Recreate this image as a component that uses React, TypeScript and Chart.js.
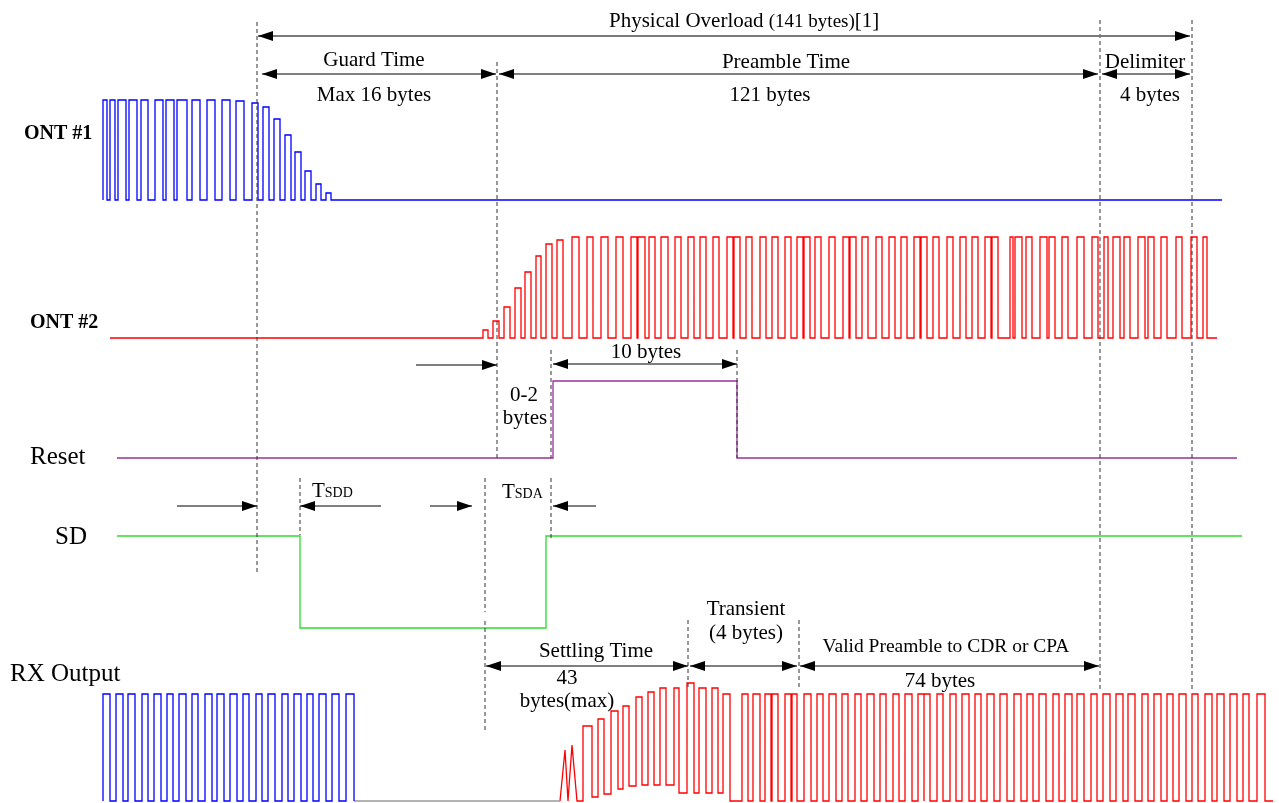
import { useEffect, useRef } from 'react';
import { Chart, registerables } from 'chart.js';

Chart.register(...registerables);

const W = 1279;
const H = 803;

// ---------- waveform data (x = time in picture units, y = level) ----------
// ONT #1 (blue): pulses before and during decay
const ont1Rise = [103, 110, 118, 129, 141, 155, 166, 177, 192, 207, 222, 236, 252, 263, 274, 285, 295, 305, 316, 326];
const ont1Fall = [107, 115, 126, 137, 148, 163, 174, 187, 200, 215, 230, 244, 258, 269, 280, 291, 301, 311, 321, 331];
const ont1Top = [100, 100, 100, 100, 100, 100, 100, 100, 100, 100, 100, 101, 103, 107, 119, 135, 152, 171, 184, 193];
const ont1Low = 200;
const ont1Span = [103, 1222];

// ONT #2 (red): ramp-up then full pulses
const ont2Rise = [483, 493, 504, 515, 525, 536, 546, 557, 572, 587, 601, 616, 631, 638, 649, 661, 675, 688, 700, 713, 727, 734, 746, 760, 772, 785, 797, 804, 815, 829, 843, 850, 862, 876, 889, 901, 914, 921, 933, 947, 960, 972, 985, 992, 1010, 1015, 1026, 1040, 1049, 1062, 1077, 1092, 1104, 1113, 1124, 1138, 1148, 1161, 1176, 1191, 1203];
const ont2Fall = [488, 499, 510, 521, 531, 541, 552, 563, 579, 593, 608, 623, 637, 645, 655, 668, 681, 694, 706, 719, 733, 740, 752, 766, 778, 791, 803, 810, 821, 835, 849, 856, 868, 882, 895, 907, 920, 927, 939, 953, 966, 978, 991, 998, 1013, 1022, 1032, 1047, 1055, 1068, 1084, 1098, 1108, 1120, 1130, 1145, 1154, 1167, 1182, 1197, 1207];
const ont2RampTop = [330, 321, 307, 288, 272, 256, 244, 240];
const ont2FullTop = 237;
const ont2Low = 338;
const ont2Span = [110, 1217];

// Reset (purple) and SD (green) as level-change points
const resetX = [117, 553, 553, 737, 737, 1237];
const resetY = [458, 458, 381, 381, 458, 458];
const sdX = [117, 300, 300, 546, 546, 1242];
const sdY = [536, 536, 628, 628, 536, 536];

// RX output – ONT #1 part (blue)
const rxBlueRise = [103, 116, 128, 142, 154, 167, 179, 192, 205, 217, 230, 243, 256, 268, 282, 294, 307, 319, 332, 346];
const rxBlueFall = [110, 123, 135, 148, 161, 173, 186, 198, 212, 224, 237, 249, 262, 275, 288, 301, 313, 326, 339, 354];
const rxTop = 694;
const rxLow = 801;
const rxGapSpan = [354, 560];

// RX output – ONT #2 part (red): first glitches, then settling pulses
const rxGlitchX = [560, 565, 568, 572, 577, 583];
const rxGlitchY = [801, 750, 801, 745, 801, 801];
const rxRedRise = [583, 598, 611, 623, 636, 648, 660, 674, 687, 699, 712, 723, 742, 753, 765, 772, 785, 792, 804, 817, 829, 842, 855, 867, 880, 893, 905, 918, 924, 937, 950, 962, 975, 987, 1000, 1014, 1027, 1039, 1053, 1065, 1077, 1091, 1103, 1116, 1128, 1142, 1154, 1167, 1179, 1192, 1205, 1217, 1230, 1243, 1257];
const rxRedFall = [592, 604, 618, 629, 642, 654, 666, 679, 694, 706, 718, 730, 748, 760, 771, 778, 791, 797, 811, 823, 836, 848, 861, 874, 886, 899, 912, 924, 930, 943, 956, 969, 981, 994, 1007, 1021, 1033, 1046, 1059, 1072, 1084, 1097, 1110, 1123, 1135, 1148, 1161, 1173, 1186, 1198, 1212, 1224, 1237, 1249, 1265];
const rxRedSettleTop = [726, 719, 711, 706, 697, 692, 688, 688, 683, 688, 688];
const rxRedSettleLow = [797, 794, 789, 786, 785, 785, 785, 793, 793, 793, 793];
const rxRedEnd = 1273;

// ---------- annotation data ----------
// dashed marker lines: x, yFrom, yTo
const markerX = [257, 497, 551, 737, 300, 485, 551, 485, 688, 799, 1100, 1192];
const markerY1 = [22, 62, 350, 350, 478, 478, 478, 621, 620, 620, 20, 20];
const markerY2 = [575, 460, 458, 458, 535, 612, 540, 730, 690, 690, 690, 690];

// span arrows: x1, x2, y, heads ('both' | 'right' | 'left')
const arrowX1 = [258, 262, 499, 1102, 553, 416, 177, 300, 430, 553, 486, 690, 800];
const arrowX2 = [1190, 496, 1098, 1190, 737, 497, 257, 381, 472, 596, 688, 797, 1099];
const arrowY = [36, 74, 74, 74, 364, 365, 506, 506, 506, 506, 666, 666, 666];
const arrowHeads = ['both', 'both', 'both', 'both', 'both', 'right', 'right', 'left', 'right', 'left', 'both', 'both', 'both'];

type Part = { t: string; s: number; b?: boolean };
type Label = { parts: Part[]; x: number; y: number; align: 'left' | 'center' };

const labels: Label[] = [
  { parts: [{ t: 'Physical Overload ', s: 21 }, { t: '(141 bytes)', s: 19 }, { t: '[1]', s: 21 }], x: 609, y: 27, align: 'left' },
  { parts: [{ t: 'Guard Time', s: 21 }], x: 374, y: 66, align: 'center' },
  { parts: [{ t: 'Max 16 bytes', s: 21 }], x: 374, y: 101, align: 'center' },
  { parts: [{ t: 'Preamble Time', s: 21 }], x: 786, y: 68, align: 'center' },
  { parts: [{ t: '121 bytes', s: 21 }], x: 770, y: 101, align: 'center' },
  { parts: [{ t: 'Delimiter', s: 21 }], x: 1145, y: 68, align: 'center' },
  { parts: [{ t: '4 bytes', s: 21 }], x: 1150, y: 101, align: 'center' },
  { parts: [{ t: 'ONT #1', s: 20, b: true }], x: 24, y: 139, align: 'left' },
  { parts: [{ t: 'ONT #2', s: 20, b: true }], x: 30, y: 328, align: 'left' },
  { parts: [{ t: '10 bytes', s: 21 }], x: 646, y: 358, align: 'center' },
  { parts: [{ t: '0-2', s: 21 }], x: 524, y: 401, align: 'center' },
  { parts: [{ t: 'bytes', s: 21 }], x: 525, y: 424, align: 'center' },
  { parts: [{ t: 'Reset', s: 25 }], x: 30, y: 464, align: 'left' },
  { parts: [{ t: 'T', s: 21 }, { t: 'SDD', s: 14 }], x: 312, y: 497, align: 'left' },
  { parts: [{ t: 'T', s: 21 }, { t: 'SDA', s: 14 }], x: 502, y: 498, align: 'left' },
  { parts: [{ t: 'SD', s: 25 }], x: 55, y: 544, align: 'left' },
  { parts: [{ t: 'Transient', s: 21 }], x: 746, y: 615, align: 'center' },
  { parts: [{ t: '(4 bytes)', s: 21 }], x: 746, y: 639, align: 'center' },
  { parts: [{ t: 'Settling Time', s: 21 }], x: 596, y: 657, align: 'center' },
  { parts: [{ t: 'Valid Preamble to CDR or CPA', s: 19.5 }], x: 946, y: 652, align: 'center' },
  { parts: [{ t: '74 bytes', s: 21 }], x: 940, y: 687, align: 'center' },
  { parts: [{ t: '43', s: 21 }], x: 567, y: 684, align: 'center' },
  { parts: [{ t: 'bytes(max)', s: 21 }], x: 567, y: 707, align: 'center' },
  { parts: [{ t: 'RX Output', s: 25 }], x: 10, y: 681, align: 'left' },
];

type Pt = { x: number; y: number };

function pulseTrain(
  rises: number[],
  falls: number[],
  topOf: (i: number) => number,
  lowOf: (i: number) => number,
  start: number,
  end: number,
  baseLow: number
): Pt[] {
  const pts: Pt[] = [{ x: start, y: baseLow }];
  let prevLow = baseLow;
  for (let i = 0; i < rises.length; i++) {
    const top = topOf(i);
    const low = lowOf(i);
    pts.push({ x: rises[i], y: prevLow });
    pts.push({ x: rises[i], y: top });
    pts.push({ x: falls[i], y: top });
    pts.push({ x: falls[i], y: low });
    prevLow = low;
  }
  pts.push({ x: end, y: prevLow });
  return pts;
}

function zipPts(xs: number[], ys: number[]): Pt[] {
  return xs.map((x, i) => ({ x, y: ys[i] }));
}

const SERIF = '"Liberation Serif", "Times New Roman", serif';

const annotationPlugin = {
  id: 'timingAnnotations',
  afterDatasetsDraw(chart: any) {
    const ctx: CanvasRenderingContext2D = chart.ctx;
    const sx = chart.scales.x;
    const sy = chart.scales.y;
    const px = (v: number) => sx.getPixelForValue(v);
    const py = (v: number) => sy.getPixelForValue(v);

    ctx.save();
    // arrows
    for (let i = 0; i < arrowX1.length; i++) {
      const x1 = px(arrowX1[i]);
      const x2 = px(arrowX2[i]);
      const y = py(arrowY[i]);
      const heads = arrowHeads[i];
      ctx.strokeStyle = i === 0 ? '#7a7a7a' : '#000';
      ctx.lineWidth = i === 0 ? 2 : 1.2;
      ctx.beginPath();
      ctx.moveTo(x1, y);
      ctx.lineTo(x2, y);
      ctx.stroke();
      ctx.fillStyle = '#000';
      const L = 15;
      const hw = 5;
      if (heads === 'both' || heads === 'left') {
        ctx.beginPath();
        ctx.moveTo(x1, y);
        ctx.lineTo(x1 + L, y - hw);
        ctx.lineTo(x1 + L, y + hw);
        ctx.closePath();
        ctx.fill();
      }
      if (heads === 'both' || heads === 'right') {
        ctx.beginPath();
        ctx.moveTo(x2, y);
        ctx.lineTo(x2 - L, y - hw);
        ctx.lineTo(x2 - L, y + hw);
        ctx.closePath();
        ctx.fill();
      }
    }
    // labels
    ctx.fillStyle = '#000';
    ctx.textBaseline = 'alphabetic';
    ctx.textAlign = 'left';
    for (const lab of labels) {
      let total = 0;
      const widths: number[] = [];
      for (const p of lab.parts) {
        ctx.font = `${p.b ? 'bold ' : ''}${p.s}px ${SERIF}`;
        const w = ctx.measureText(p.t).width;
        widths.push(w);
        total += w;
      }
      let x = px(lab.x);
      if (lab.align === 'center') x -= total / 2;
      const y = py(lab.y);
      lab.parts.forEach((p, k) => {
        ctx.font = `${p.b ? 'bold ' : ''}${p.s}px ${SERIF}`;
        ctx.fillText(p.t, x, y);
        x += widths[k];
      });
    }
    ctx.restore();
  },
};

export default function App() {
  const ref = useRef<HTMLCanvasElement | null>(null);

  useEffect(() => {
    if (!ref.current) return;

    const ont1 = pulseTrain(ont1Rise, ont1Fall, (i) => ont1Top[i], () => ont1Low, ont1Span[0], ont1Span[1], ont1Low);
    const ont1Fixed = ont1.slice(1); // start directly with the rising edge
    const ont2 = pulseTrain(
      ont2Rise,
      ont2Fall,
      (i) => (i < ont2RampTop.length ? ont2RampTop[i] : ont2FullTop),
      () => ont2Low,
      ont2Span[0],
      ont2Span[1],
      ont2Low
    );
    const rxBlue = pulseTrain(rxBlueRise, rxBlueFall, () => rxTop, () => rxLow, rxBlueRise[0], rxBlueFall[rxBlueFall.length - 1], rxLow).slice(1);
    const rxGap = [{ x: rxGapSpan[0], y: rxLow }, { x: rxGapSpan[1], y: rxLow }];
    const rxRedPulses = pulseTrain(
      rxRedRise,
      rxRedFall,
      (i) => (i < rxRedSettleTop.length ? rxRedSettleTop[i] : rxTop),
      (i) => (i < rxRedSettleLow.length ? rxRedSettleLow[i] : rxLow),
      rxRedRise[0],
      rxRedEnd,
      rxLow
    );
    const rxRed = [...zipPts(rxGlitchX, rxGlitchY), ...rxRedPulses];

    const line = (data: Pt[], color: string, width: number, dash: number[] = []) => ({
      type: 'scatter' as const,
      data,
      showLine: true,
      borderColor: color,
      backgroundColor: color,
      borderWidth: width,
      borderDash: dash,
      pointRadius: 0,
      pointHoverRadius: 0,
      fill: false,
      tension: 0,
    });

    const markers = markerX.map((x, i) =>
      line([{ x, y: markerY1[i] }, { x, y: markerY2[i] }], '#333333', 1, [4, 3])
    );

    const chart = new Chart(ref.current, {
      type: 'scatter',
      data: {
        datasets: [
          ...markers,
          line(ont1Fixed, '#0000ff', 1.3),
          line(ont2, '#ff0000', 1.3),
          line(zipPts(resetX, resetY), '#99309c', 1.3),
          line(zipPts(sdX, sdY), '#2edb2e', 1.3),
          line(rxBlue, '#0000ff', 1.3),
          line(rxGap, '#9a9a9a', 1.3),
          line(rxRed, '#ff0000', 1.3),
        ] as any,
      },
      options: {
        animation: false,
        responsive: false,
        maintainAspectRatio: false,
        events: [],
        layout: { padding: 0 },
        plugins: { legend: { display: false }, tooltip: { enabled: false } },
        scales: {
          x: { type: 'linear', min: 0, max: W, display: false },
          y: { type: 'linear', min: 0, max: H, reverse: true, display: false },
        },
      },
      plugins: [annotationPlugin],
    });

    return () => chart.destroy();
  }, []);

  return (
    <div style={{ position: 'absolute', left: 0, top: 0, width: W, height: H, background: '#fff' }}>
      <canvas ref={ref} width={W} height={H} style={{ display: 'block', width: W, height: H }} />
    </div>
  );
}
